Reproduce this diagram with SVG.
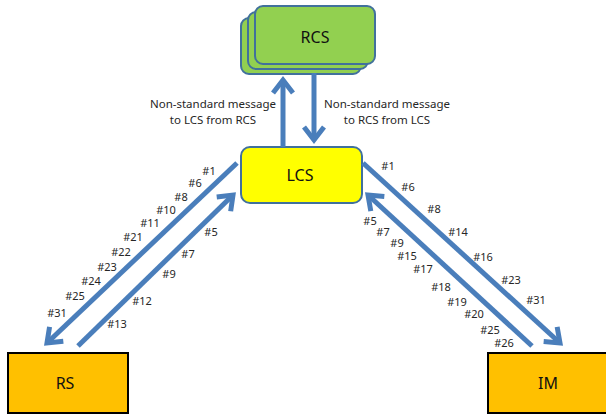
<svg xmlns="http://www.w3.org/2000/svg" width="606" height="416" viewBox="0 0 606 416">
<style>
text{font-family:"Noto Sans","Open Sans","DejaVu Sans",sans-serif;fill:#262626;text-anchor:middle}
.lbl{font-size:11px}
.msg{font-size:11.5px}
.node{font-size:16px;fill:#111}
.rcs{fill:#92D050;stroke:#41719C;stroke-width:2}
.conn{stroke:#4A7EBB;stroke-width:5;fill:none}
</style>
<defs>
<marker id="ah" markerUnits="userSpaceOnUse" markerWidth="30" markerHeight="30" viewBox="-20 -15 30 30" refX="0" refY="0" orient="auto">
<path d="M-13,-10 L0,0 L-13,10" fill="none" stroke="#4A7EBB" stroke-width="5"/>
</marker>
</defs>
<g id="RCS">
<rect class="rcs" x="241" y="18" width="120" height="56" rx="8"/>
<rect class="rcs" x="248" y="12" width="120" height="57" rx="8"/>
<rect class="rcs" x="255" y="6" width="120" height="58" rx="8"/>
<text class="node" x="315" y="43">RCS</text>
</g>
<g id="LCS">
<rect x="241" y="147" width="121" height="56" rx="9" fill="#FFFF00" stroke="#41719C" stroke-width="2"/>
<text class="node" x="300" y="181">LCS</text>
</g>
<g id="RS">
<rect x="8" y="353" width="120" height="60" fill="#FFC000" stroke="#000" stroke-width="2"/>
<text class="node" x="65" y="389">RS</text>
</g>
<g id="IM">
<rect x="488" y="353" width="120" height="60" fill="#FFC000" stroke="#000" stroke-width="2"/>
<text class="node" x="548" y="389">IM</text>
</g>
<g id="connectors">
<line class="conn" x1="283" y1="147" x2="283" y2="80" marker-end="url(#ah)"/>
<line class="conn" x1="314" y1="73" x2="314" y2="140" marker-end="url(#ah)"/>
<line class="conn" x1="237" y1="163" x2="47" y2="343" marker-end="url(#ah)"/>
<line class="conn" x1="78" y1="346" x2="233" y2="195" marker-end="url(#ah)"/>
<line class="conn" x1="363" y1="163" x2="560" y2="343" marker-end="url(#ah)"/>
<line class="conn" x1="532" y1="346" x2="368" y2="195" marker-end="url(#ah)"/>
</g>
<g id="labels">
<text class="msg" x="213" y="108">Non-standard message</text>
<text class="msg" x="213" y="124">to LCS from RCS</text>
<text class="msg" x="387" y="108">Non-standard message</text>
<text class="msg" x="387" y="124">to RCS from LCS</text>
<text class="lbl" x="209" y="175">#1</text>
<text class="lbl" x="195" y="187">#6</text>
<text class="lbl" x="181" y="201">#8</text>
<text class="lbl" x="166" y="214">#10</text>
<text class="lbl" x="150" y="227">#11</text>
<text class="lbl" x="133" y="241">#21</text>
<text class="lbl" x="121" y="256">#22</text>
<text class="lbl" x="107" y="271">#23</text>
<text class="lbl" x="91" y="285">#24</text>
<text class="lbl" x="75" y="300">#25</text>
<text class="lbl" x="57" y="317">#31</text>
<text class="lbl" x="211" y="236">#5</text>
<text class="lbl" x="188" y="258">#7</text>
<text class="lbl" x="169" y="278">#9</text>
<text class="lbl" x="142" y="305">#12</text>
<text class="lbl" x="117" y="328">#13</text>
<text class="lbl" x="388" y="170">#1</text>
<text class="lbl" x="408" y="191">#6</text>
<text class="lbl" x="434" y="213">#8</text>
<text class="lbl" x="458" y="236">#14</text>
<text class="lbl" x="483" y="261">#16</text>
<text class="lbl" x="511" y="284">#23</text>
<text class="lbl" x="536" y="304">#31</text>
<text class="lbl" x="370" y="225">#5</text>
<text class="lbl" x="383" y="236">#7</text>
<text class="lbl" x="397" y="247">#9</text>
<text class="lbl" x="407" y="260">#15</text>
<text class="lbl" x="423" y="273">#17</text>
<text class="lbl" x="441" y="291">#18</text>
<text class="lbl" x="457" y="306">#19</text>
<text class="lbl" x="474" y="318">#20</text>
<text class="lbl" x="490" y="334">#25</text>
<text class="lbl" x="504" y="347">#26</text>
</g>
</svg>
